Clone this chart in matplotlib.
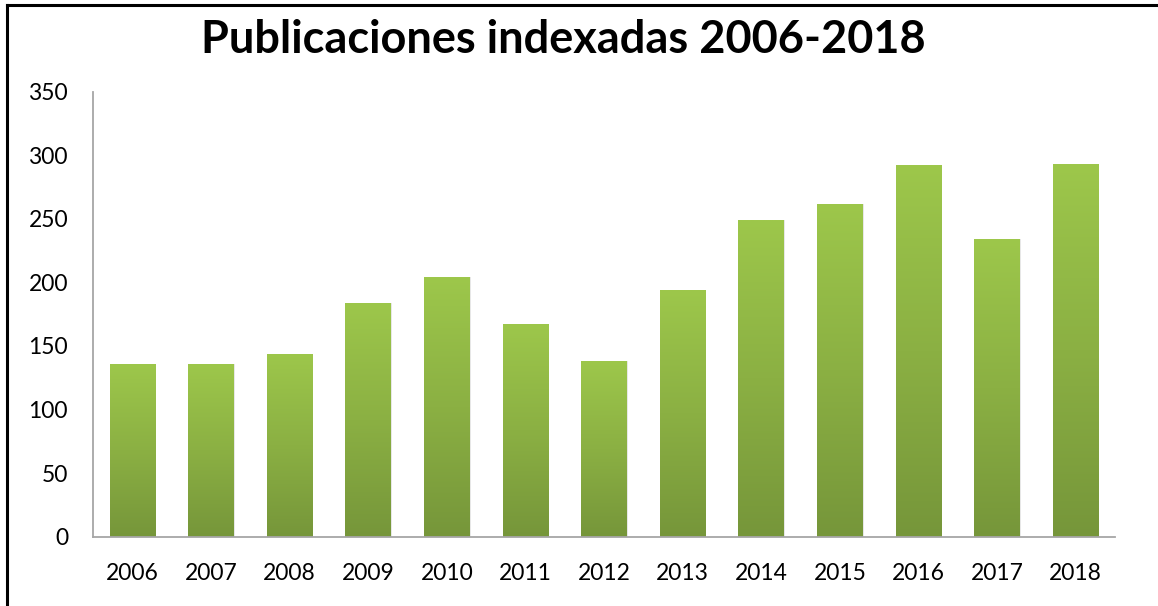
import numpy as np
import matplotlib
matplotlib.use('Agg')
import matplotlib.pyplot as plt
from matplotlib.colors import LinearSegmentedColormap
from matplotlib.lines import Line2D

years = ['2006', '2007', '2008', '2009', '2010', '2011', '2012',
         '2013', '2014', '2015', '2016', '2017', '2018']
publicaciones = [136, 136, 144, 184, 204, 167, 138, 194, 249, 262, 292, 234, 293]
yticks = [0, 50, 100, 150, 200, 250, 300, 350]

plt.rcParams['font.family'] = ['Lato', 'DejaVu Sans']

fig = plt.figure(figsize=(11.58, 6.06), dpi=100)
ax = fig.add_axes([93/1158, 1 - 536.7/606, (1115 - 93)/1158, (536.7 - 91.7)/606])

x = np.arange(len(years))
green = LinearSegmentedColormap.from_list('verde', ['#76963a', '#8bb043', '#9dc74b'])
grad = np.linspace(0, 1, 256).reshape(-1, 1)

# faint shadow on the right of each bar
ax.bar(x + 0.012, publicaciones, width=0.58, color='#d0d0d0', alpha=0.5, zorder=1)
bars = ax.bar(x, publicaciones, width=0.58, color='none', zorder=2)
for b in bars:
    bx, bw, bh = b.get_x(), b.get_width(), b.get_height()
    im = ax.imshow(grad, extent=[bx, bx + bw, 0, bh], origin='lower',
                   aspect='auto', cmap=green, zorder=2)
    im.set_clip_path(b)

ax.set_xlim(-0.5, len(years) - 0.5)
ax.set_ylim(0, 350)
ax.set_xticks(x)
ax.set_xticklabels(years)
ax.set_yticks(yticks)
ax.tick_params(axis='both', length=0, labelsize=16.5, colors='#000000')
ax.tick_params(axis='x', pad=19)
ax.tick_params(axis='y', pad=18)

for s in ['top', 'right']:
    ax.spines[s].set_visible(False)
for s in ['left', 'bottom']:
    ax.spines[s].set_color('#a6a6a6')
    ax.spines[s].set_linewidth(1.3)

fig.text(563/1158, 1 - 40/606, 'Publicaciones indexadas 2006-2018',
         ha='center', va='center', fontsize=32.5, fontweight='bold', color='#000000')

# border (only left and top visible in the screenshot)
fig.add_artist(Line2D([7/1158, 7/1158], [0, 1 - 5/606], transform=fig.transFigure,
                      color='black', linewidth=2.2))
fig.add_artist(Line2D([7/1158, 1], [1 - 5/606, 1 - 5/606], transform=fig.transFigure,
                      color='black', linewidth=2.2))

fig.savefig('out.png', dpi=100)
